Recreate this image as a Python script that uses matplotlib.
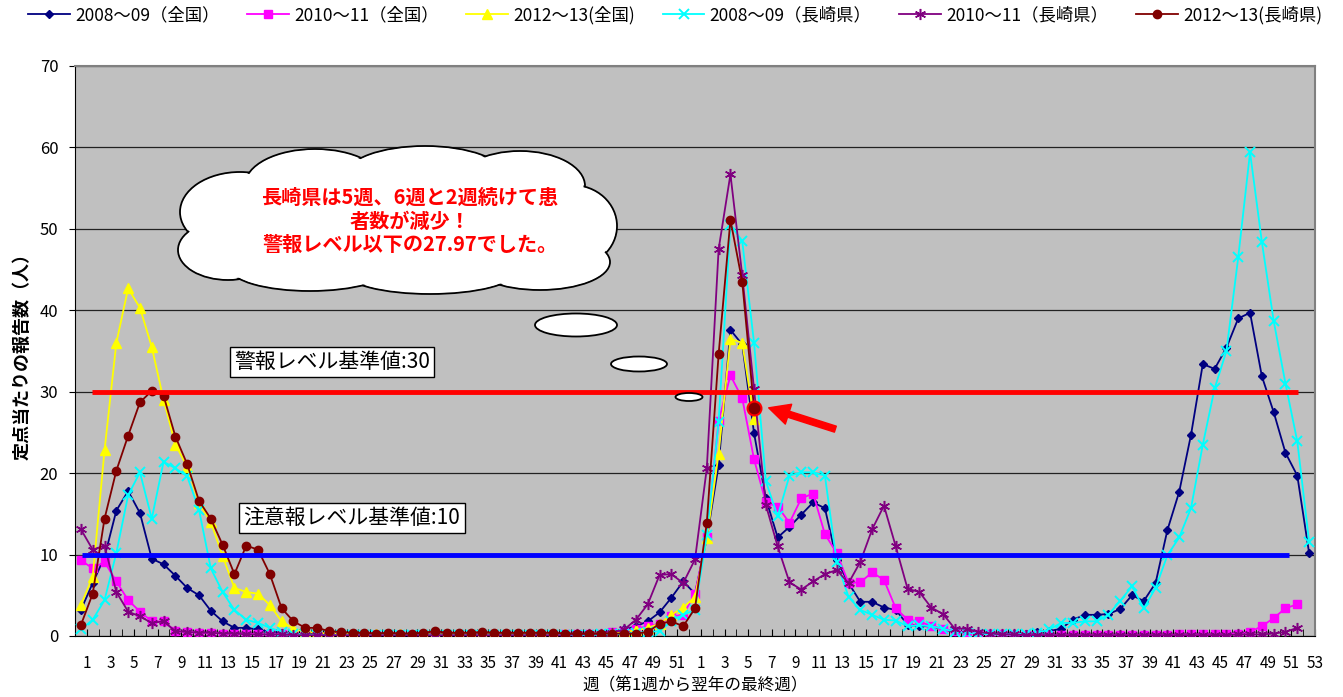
import numpy as np
import matplotlib
matplotlib.use("Agg")
import matplotlib.pyplot as plt
from matplotlib.patches import Ellipse, FancyArrowPatch

plt.rcParams['font.family'] = ['Noto Sans CJK JP', 'DejaVu Sans']

# 横軸: 1年目 1～52週, 翌年 1～53週
weeks = list(range(1, 53)) + list(range(1, 54))

zenkoku_0809 = [3.2, 6.5, 9.7, 15.4, 17.8, 15.1, 9.5, 8.8, 7.4, 5.9, 5.0, 3.1, 1.8,
                1.0, 1.0, 0.8, 0.5, 0.4, 0.3, 0.2, 0.2, 0.2, 0.1, 0.1, 0.1, 0.1,
                0.1, 0.1, 0.1, 0.1, 0.1, 0.1, 0.1, 0.1, 0.1, 0.1, 0.1, 0.1, 0.1,
                0.1, 0.1, 0.2, 0.2, 0.2, 0.3, 0.5, 0.8, 1.2, 1.8, 2.9, 4.7, 6.7,
                5.2, 12.0, 21.0, 37.6, 35.8, 24.9, 16.9, 12.1, 13.4, 14.9, 16.4, 15.7, 9.3,
                6.5, 4.2, 4.2, 3.5, 3.2, 1.4, 1.2, 1.2, 0.8, 0.5, 0.4, 0.3, 0.3,
                0.3, 0.3, 0.3, 0.5, 0.6, 0.9, 2.0, 2.6, 2.6, 2.7, 3.3, 5.0, 4.3,
                6.5, 13.0, 17.7, 24.7, 33.4, 32.8, 35.4, 39.0, 39.7, 31.9, 27.5, 22.5, 19.7,
                10.2]
zenkoku_1011 = [9.3, 8.3, 9.1, 6.7, 4.4, 3.0, 1.8, 1.8, 0.6, 0.5, 0.4, 0.4, 0.3,
                0.3, 0.3, 0.2, 0.2, 0.2, 0.1, 0.1, 0.1, 0.1, 0.1, 0.1, 0.1, 0.1,
                0.1, 0.1, 0.1, 0.1, 0.1, 0.1, 0.1, 0.1, 0.1, 0.1, 0.1, 0.1, 0.1,
                0.1, 0.1, 0.2, 0.2, 0.2, 0.3, 0.5, 0.6, 0.9, 1.2, 1.5, 2.4, 2.6,
                5.2, 12.2, 26.4, 32.0, 29.2, 21.7, 16.4, 15.9, 13.9, 16.9, 17.5, 12.5, 10.2,
                6.5, 6.6, 7.8, 6.9, 3.4, 2.0, 1.8, 1.2, 0.9, 0.6, 0.5, 0.3, 0.2,
                0.2, 0.1, 0.1, 0.1, 0.1, 0.1, 0.1, 0.1, 0.1, 0.1, 0.1, 0.1, 0.1,
                0.1, 0.1, 0.2, 0.2, 0.2, 0.2, 0.3, 0.3, 0.5, 1.2, 2.2, 3.4, 3.9]
zenkoku_1213 = [3.8, 7.3, 22.8, 36.0, 42.7, 40.3, 35.5, 29.0, 23.5, 20.8, 16.3, 14.0, 9.8,
                5.9, 5.4, 5.2, 3.8, 1.8, 0.9, 0.5, 0.4, 0.3, 0.3, 0.2, 0.2, 0.2,
                0.2, 0.2, 0.1, 0.2, 0.2, 0.2, 0.2, 0.2, 0.2, 0.2, 0.2, 0.2, 0.2,
                0.2, 0.2, 0.2, 0.2, 0.3, 0.3, 0.4, 0.5, 0.7, 1.0, 1.5, 2.6, 3.5,
                4.8, 12.0, 22.4, 36.5, 36.0, 26.7]
nagasaki_0809 = [0.8, 2.0, 4.4, 10.2, 17.3, 20.1, 14.4, 21.4, 20.6, 19.6, 15.5, 8.3, 5.4,
                 3.2, 2.0, 1.6, 1.0, 0.5, 0.3, 0.2, 0.1, 0.1, 0.1, 0.1, 0.1, 0.1,
                 0.1, 0.1, 0.1, 0.1, 0.1, 0.1, 0.1, 0.1, 0.1, 0.1, 0.1, 0.1, 0.1,
                 0.1, 0.1, 0.1, 0.1, 0.1, 0.2, 0.2, 0.3, 0.4, 0.5, 0.6, 1.9, 2.6,
                 3.2, 12.4, 26.3, 50.5, 48.5, 36.0, 19.0, 14.7, 19.7, 20.1, 20.1, 19.7, 9.1,
                 4.8, 3.2, 2.6, 2.0, 1.9, 1.2, 1.3, 1.2, 0.9, 0.5, 0.4, 0.3, 0.2,
                 0.2, 0.2, 0.3, 0.4, 0.8, 1.6, 1.6, 1.8, 1.8, 2.6, 4.3, 6.1, 3.4,
                 5.9, 9.9, 12.1, 15.7, 23.5, 30.4, 35.0, 46.5, 59.4, 48.4, 38.7, 31.0, 23.9,
                 11.6]
nagasaki_1011 = [13.1, 10.6, 11.1, 5.4, 3.0, 2.4, 1.6, 1.8, 0.6, 0.5, 0.4, 0.4, 0.3,
                 0.3, 0.2, 0.2, 0.2, 0.2, 0.1, 0.1, 0.1, 0.1, 0.1, 0.1, 0.1, 0.1,
                 0.1, 0.1, 0.1, 0.1, 0.1, 0.1, 0.1, 0.1, 0.1, 0.1, 0.1, 0.1, 0.1,
                 0.1, 0.1, 0.1, 0.2, 0.2, 0.3, 0.4, 0.8, 2.0, 3.9, 7.5, 7.6, 6.5,
                 9.4, 20.6, 47.5, 56.7, 44.3, 30.3, 16.1, 11.0, 6.6, 5.7, 6.7, 7.6, 8.1,
                 6.5, 9.1, 13.1, 16.0, 11.0, 5.8, 5.4, 3.5, 2.7, 0.9, 0.9, 0.5, 0.3,
                 0.2, 0.2, 0.1, 0.1, 0.1, 0.1, 0.1, 0.1, 0.1, 0.1, 0.1, 0.1, 0.1,
                 0.1, 0.1, 0.1, 0.1, 0.1, 0.1, 0.1, 0.2, 0.2, 0.2, 0.3, 0.5, 1.0]
nagasaki_1213 = [1.35, 5.2, 14.4, 20.3, 24.6, 28.7, 30.1, 29.5, 24.5, 21.1, 16.6, 14.4, 11.2,
                 7.6, 11.1, 10.6, 7.6, 3.4, 1.8, 1.0, 1.0, 0.6, 0.5, 0.4, 0.4, 0.3,
                 0.4, 0.3, 0.3, 0.4, 0.6, 0.4, 0.4, 0.4, 0.5, 0.4, 0.4, 0.4, 0.4,
                 0.4, 0.4, 0.3, 0.3, 0.3, 0.3, 0.3, 0.3, 0.3, 0.5, 1.5, 1.8, 1.2,
                 3.4, 13.9, 34.6, 51.1, 43.5, 27.97]

alert_level = 30
caution_level = 10

W, H = 1343, 697
fig = plt.figure(figsize=(W / 100, H / 100), dpi=100)
ax = fig.add_axes([75 / W, 1 - 636 / H, (1315 - 75) / W, (636 - 66) / H])
ax.set_facecolor('#C0C0C0')


def fx(x):
    return x / W


def fy(y):
    return 1 - y / H


series = [
    (zenkoku_0809, '2008～09（全国）', '#000080', 'D', 4.5, 1.0),
    (zenkoku_1011, '2010～11（全国）', '#FF00FF', 's', 6, 1.0),
    (zenkoku_1213, '2012～13(全国)', '#FFFF00', '^', 7, 1.0),
    (nagasaki_0809, '2008～09（長崎県）', '#00FFFF', 'x', 7, 1.4),
    (nagasaki_1011, '2010～11（長崎県）', '#800080', (6, 2, 0), 8, 1.1),
    (nagasaki_1213, '2012～13(長崎県)', '#800000', 'o', 6, 1.0),
]
handles = []
for vals, lab, col, mk, ms, mew in series:
    h, = ax.plot(np.arange(len(vals)), vals, color=col, lw=1.3, marker=mk, ms=ms,
                 mfc=col, mec=col, mew=mew, label=lab, zorder=3)
    handles.append(h)

# 今週の長崎県の値を強調
last = len(nagasaki_1213) - 1
ax.plot(last, nagasaki_1213[last], 'o', ms=10, mfc='#800000', mec='red', mew=1.5, zorder=6)

ax.hlines(alert_level, 0.9, 103.1, color='#FF0000', lw=3.5, zorder=4)
ax.hlines(caution_level, 0.1, 102.3, color='#0000FF', lw=3.5, zorder=4)

ax.set_xlim(-0.5, len(weeks) - 0.5)
ax.set_ylim(0, 70)
ax.set_yticks(range(0, 71, 10))
ax.grid(axis='y', color='#222222', lw=0.9)
ax.set_axisbelow(True)

lab_pos = np.arange(0, len(weeks), 2)
ax.set_xticks(lab_pos + 0.5)
ax.set_xticklabels([str(weeks[i]) for i in lab_pos])
ax.set_xticks(np.arange(len(weeks)) + 0.5, minor=True)
ax.tick_params(axis='x', which='both', direction='in', length=5, color='black',
               labelsize=11, pad=14)
ax.tick_params(axis='y', labelsize=12, length=4, pad=8)
for s in ['top', 'right']:
    ax.spines[s].set_color('#808080')
    ax.spines[s].set_linewidth(1.5)

fig.text(fx(22), fy(352), '定点当たりの報告数（人）', rotation=90, ha='center', va='center',
         fontsize=13, fontweight='bold')
fig.text(fx(695), fy(686), '週（第1週から翌年の最終週）', ha='center', va='center', fontsize=12)

fig.legend(handles=handles, loc='upper left', bbox_to_anchor=(fx(28), fy(6)), ncol=6,
           frameon=False, fontsize=12.5, handlelength=2.4, handletextpad=0.3,
           columnspacing=1.6, borderaxespad=0, borderpad=0, numpoints=1)

box = dict(boxstyle='square,pad=0.2', fc='white', ec='black', lw=1)
fig.text(fx(332), fy(362), '警報レベル基準値:30', ha='center', va='center', fontsize=15, bbox=box)
fig.text(fx(352), fy(518), '注意報レベル基準値:10', ha='center', va='center', fontsize=15, bbox=box)

# 吹き出し(雲形)
bumps = [(240, 212, 120, 80), (228, 250, 100, 60), (315, 185, 140, 72),
         (425, 176, 160, 60), (520, 186, 130, 70), (572, 226, 90, 82),
         (540, 262, 140, 56), (430, 272, 170, 44), (310, 268, 160, 46)]
for cx, cy, w, h in bumps:
    fig.patches.append(Ellipse((fx(cx), fy(cy)), w / W, h / H, fc='white', ec='black',
                               lw=1.3, transform=fig.transFigure, zorder=5))
for cx, cy, w, h in bumps:
    fig.patches.append(Ellipse((fx(cx), fy(cy)), (w - 3) / W, (h - 3) / H, fc='white',
                               ec='none', transform=fig.transFigure, zorder=5))
fig.patches.append(Ellipse((fx(405), fy(224)), 330 / W, 100 / H, fc='white', ec='none',
                           transform=fig.transFigure, zorder=5))
for cx, cy, w, h in [(576, 325, 82, 23), (639, 364, 56, 15), (689, 397, 27, 8)]:
    fig.patches.append(Ellipse((fx(cx), fy(cy)), w / W, h / H, fc='white', ec='black',
                               lw=1.3, transform=fig.transFigure, zorder=5))

fig.text(fx(410), fy(221), '長崎県は5週、6週と2週続けて患\n者数が減少！\n警報レベル以下の27.97でした。',
         ha='center', va='center', color='#FF0000', fontsize=14.5, fontweight='bold',
         linespacing=1.15, zorder=7)

arrow = FancyArrowPatch((fx(838), fy(430)), (fx(766), fy(407)), transform=fig.transFigure,
                        arrowstyle='simple,head_length=1.5,head_width=1.5,tail_width=0.45',
                        mutation_scale=10, color='#FF0000', zorder=7)
fig.patches.append(arrow)

fig.savefig('out.png', dpi=100)
